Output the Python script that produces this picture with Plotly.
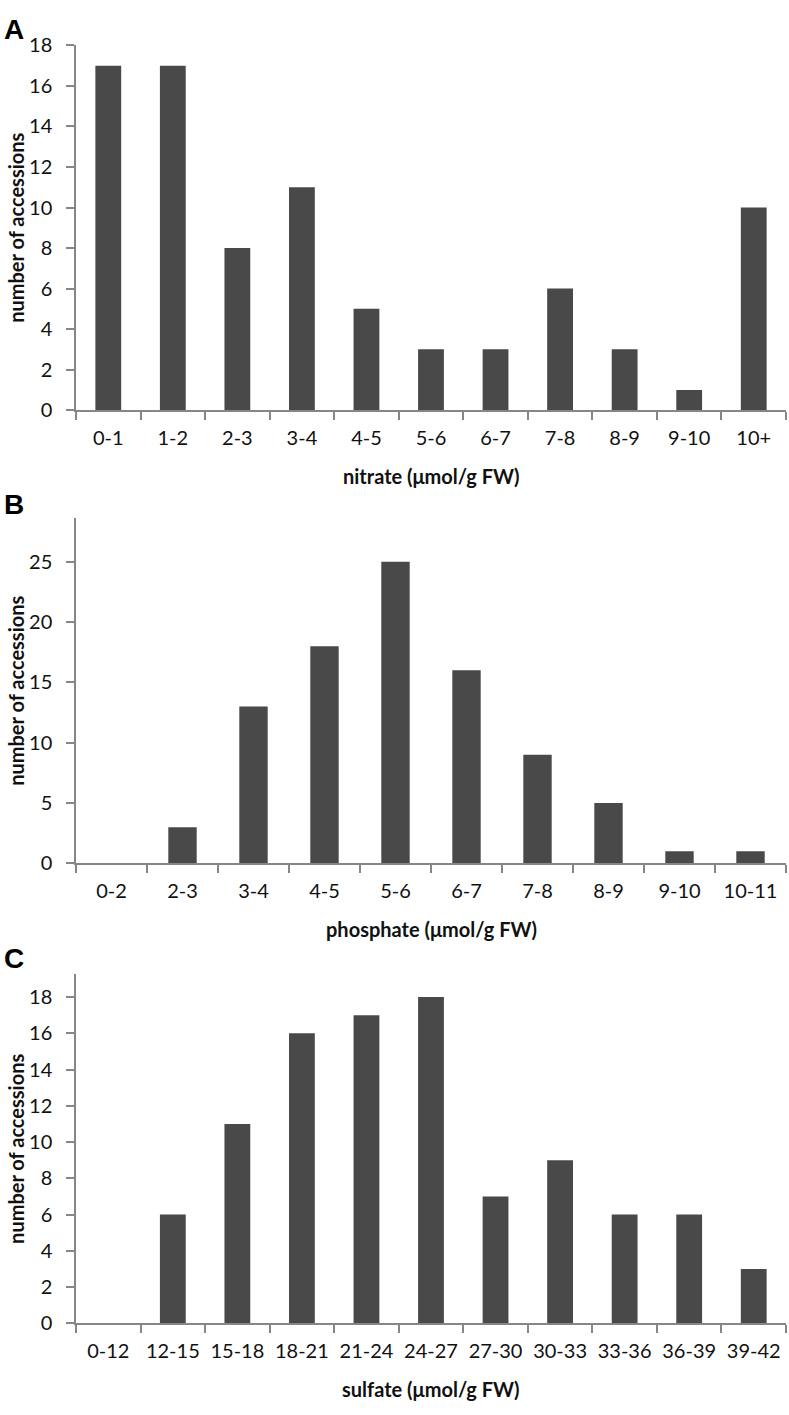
import plotly.graph_objects as go
from plotly.subplots import make_subplots

# ---- data ----
nitrate_bins = ["0-1", "1-2", "2-3", "3-4", "4-5", "5-6", "6-7", "7-8", "8-9", "9-10", "10+"]
nitrate_counts = [17, 17, 8, 11, 5, 3, 3, 6, 3, 1, 10]

phosphate_bins = ["0-2", "2-3", "3-4", "4-5", "5-6", "6-7", "7-8", "8-9", "9-10", "10-11"]
phosphate_counts = [0, 3, 13, 18, 25, 16, 9, 5, 1, 1]

sulfate_bins = ["0-12", "12-15", "15-18", "18-21", "21-24", "24-27", "27-30", "30-33", "33-36", "36-39", "39-42"]
sulfate_counts = [0, 6, 11, 16, 17, 18, 7, 9, 6, 6, 3]

x_titles = ["nitrate (\u03bcmol/g FW)", "phosphate (\u03bcmol/g FW)", "sulfate (\u03bcmol/g FW)"]
y_title = "number of accessions"
panel_letters = ["A", "B", "C"]

# ---- layout (pixels) ----
W, H = 789, 1415
BAR = "#494949"
AX = "#868686"
FONT = "Lato"
TXT = "#111111"

panels = [
    # (categories, values, y_top_px, y_zero_px, yrange_max, dtick, letter_y_px)
    (nitrate_bins, nitrate_counts, 33, 404, 18, 2, 17),
    (phosphate_bins, phosphate_counts, 514, 865, 28.6, 5, 500),
    (sulfate_bins, sulfate_counts, 978, 1333, 19.25, 2, 962),
]

fig = make_subplots(rows=3, cols=1)

x0, x1 = 76 / W, 786 / W
for i, (cats, vals, ytop, yzero, ymax, dt, ly) in enumerate(panels):
    r = i + 1
    fig.add_trace(go.Bar(x=cats, y=vals, marker=dict(color=BAR, line=dict(width=0)),
                         showlegend=False, hoverinfo="skip"), row=r, col=1)
    xa = "xaxis" if r == 1 else f"xaxis{r}"
    ya = "yaxis" if r == 1 else f"yaxis{r}"
    fig.layout[xa].update(
        domain=[x0, x1], type="category", showline=True, linecolor=AX, linewidth=1.5,
        ticks="outside", tickson="boundaries", ticklen=8, tickcolor=AX, tickwidth=1.5,
        ticklabelstandoff=9,
        showgrid=False, zeroline=False,
        tickfont=dict(family=FONT, size=20, color=TXT),
    )
    fig.layout[ya].update(
        domain=[1 - yzero / H, 1 - ytop / H], range=[0, ymax], dtick=dt, tick0=0,
        showline=True, linecolor=AX, linewidth=1.5,
        ticks="outside", ticklen=8, tickcolor=AX, tickwidth=1.5,
        ticklabelstandoff=10,
        showgrid=False, zeroline=False,
        tickfont=dict(family=FONT, size=20, color=TXT),
    )
    # x-axis title
    fig.add_annotation(text=f"<b>{x_titles[i]}</b>", xref="paper", yref="paper",
                       x=(x0 + x1) / 2, y=1 - (yzero + 67) / H, xanchor="center", yanchor="middle",
                       showarrow=False, font=dict(family=FONT, size=20, color=TXT))
    # y-axis title
    fig.add_annotation(text=f"<b>{y_title}</b>", xref="paper", yref="paper",
                       x=16 / W, y=1 - ((ytop + yzero) / 2) / H, xanchor="center", yanchor="middle",
                       textangle=-90, showarrow=False, font=dict(family=FONT, size=20, color=TXT))
    # panel letter
    fig.add_annotation(text=f"<b>{panel_letters[i]}</b>", xref="paper", yref="paper",
                       x=2 / W, y=1 - ly / H, xanchor="left", yanchor="middle",
                       showarrow=False, font=dict(family="Liberation Sans", size=28, color="#000"))

fig.update_layout(
    width=W, height=H, margin=dict(l=0, r=0, t=0, b=0),
    plot_bgcolor="white", paper_bgcolor="white", bargap=0.6,
)

fig.write_html("out.html", config={"displayModeBar": False},
               post_script="document.body.style.margin='0';document.body.style.overflow='hidden';")
